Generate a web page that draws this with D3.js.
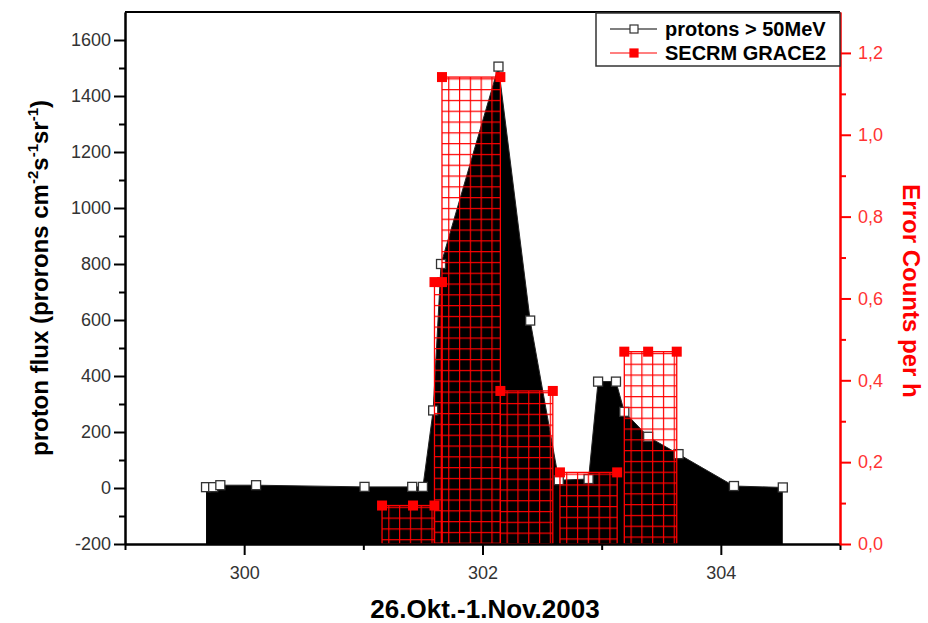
<!DOCTYPE html>
<html>
<head>
<meta charset="utf-8">
<script src="https://cdn.jsdelivr.net/npm/d3@7"></script>
<style>
  body { margin: 0; background: #fff; }
  text { font-family: "Liberation Sans", Arial, sans-serif; }
</style>
</head>
<body>
<div id="chart"></div>
<script>
var svgWidth = 928;
var svgHeight = 623;

var margin = { top: 12, right: 88, bottom: 79, left: 125 };
var width = svgWidth - margin.left - margin.right;
var height = svgHeight - margin.top - margin.bottom;

// protons > 50MeV (day of year 2003, flux)
var protonDay  = [299.68, 299.74, 299.80, 300.10, 301.01, 301.41, 301.50, 301.586, 301.652,
                  302.134, 302.40, 302.64, 302.89, 302.97, 303.12, 303.19, 303.39, 303.645, 304.11, 304.52];
var protonFlux = [3, 3, 10, 10, 4, 4, 4, 277, 800, 1505, 598, 28, 32, 380, 380, 272, 183, 121, 7, 2];

// SECRM GRACE2 error counts per hour
var secrmDay    = [301.157, 301.417, 301.597, 301.597, 301.66, 301.66, 302.15, 302.15, 302.59,
                   302.65, 303.13, 303.19, 303.39, 303.63];
var secrmCounts = [0.094, 0.094, 0.094, 0.64, 0.64, 1.141, 1.141, 0.374, 0.374,
                   0.175, 0.175, 0.47, 0.47, 0.47];

var xMajor = [300, 302, 304];
var xMinor = [299, 301, 303, 305];
var leftMajor = [-200, 0, 200, 400, 600, 800, 1000, 1200, 1400, 1600];
var leftMinor = [-100, 100, 300, 500, 700, 900, 1100, 1300, 1500];
var rightMajor = [0, 0.2, 0.4, 0.6, 0.8, 1.0, 1.2];
var rightMinor = [0.1, 0.3, 0.5, 0.7, 0.9, 1.1];

var svg = d3.select("#chart")
  .append("svg")
  .attr("width", svgWidth)
  .attr("height", svgHeight);

var defs = svg.append("defs");

var chartGroup = svg.append("g")
  .attr("transform", `translate(${margin.left}, ${margin.top})`);

var xScale = d3.scaleLinear().domain([299, 305]).range([0, width]);
var yLeft = d3.scaleLinear().domain([-200, 1700]).range([height, 0]);
var yRight = d3.scaleLinear().domain([0, 1.3]).range([height, 0]);

var protons = protonDay.map((d, i) => ({ day: d, flux: protonFlux[i] }));

// black filled area down to the axis floor
var area = d3.area()
  .x(d => xScale(d.day))
  .y0(height)
  .y1(d => yLeft(d.flux));

chartGroup.append("path")
  .datum(protons)
  .attr("d", area)
  .attr("fill", "#000");

chartGroup.append("path")
  .datum(protons)
  .attr("d", d3.line().x(d => xScale(d.day)).y(d => yLeft(d.flux)))
  .attr("fill", "none")
  .attr("stroke", "#222")
  .attr("stroke-width", 1);

chartGroup.selectAll(".protonPt")
  .data(protons)
  .enter()
  .append("rect")
  .attr("class", "protonPt")
  .attr("x", d => xScale(d.day) - 4.5)
  .attr("y", d => yLeft(d.flux) - 4.5)
  .attr("width", 9)
  .attr("height", 9)
  .attr("fill", "#fff")
  .attr("stroke", "#333")
  .attr("stroke-width", 1.3);

// group consecutive equal counts into bars
var bars = [];
var i = 0;
while (i < secrmDay.length) {
  var j = i;
  while (j + 1 < secrmDay.length && secrmCounts[j + 1] === secrmCounts[i]) j++;
  if (j > i) bars.push({ x0: secrmDay[i], x1: secrmDay[j], v: secrmCounts[i] });
  i = j + 1;
}

var cell = 10.8;
bars.forEach(function(b, k) {
  var pat = defs.append("pattern")
    .attr("id", "grid" + k)
    .attr("patternUnits", "userSpaceOnUse")
    .attr("x", margin.left + xScale(b.x0))
    .attr("y", margin.top + yRight(b.v))
    .attr("width", cell)
    .attr("height", cell);
  pat.append("path")
    .attr("d", `M0,0.6 H${cell} M0.6,0 V${cell}`)
    .attr("stroke", "#ff0000")
    .attr("stroke-width", 1.2)
    .attr("fill", "none");
});

chartGroup.selectAll(".secrmBar")
  .data(bars)
  .enter()
  .append("rect")
  .attr("class", "secrmBar")
  .attr("x", d => xScale(d.x0))
  .attr("y", d => yRight(d.v))
  .attr("width", d => xScale(d.x1) - xScale(d.x0))
  .attr("height", d => height - yRight(d.v))
  .attr("fill", (d, k) => `url(#grid${k})`)
  .attr("stroke", "#ff0000")
  .attr("stroke-width", 1.3);

chartGroup.selectAll(".secrmPt")
  .data(secrmDay.map((d, k) => ({ day: d, c: secrmCounts[k] })))
  .enter()
  .append("rect")
  .attr("class", "secrmPt")
  .attr("x", d => xScale(d.day) - 5)
  .attr("y", d => yRight(d.c) - 5)
  .attr("width", 10)
  .attr("height", 10)
  .attr("fill", "#ff0000");

// axes
function styleAxis(g, color) {
  g.select(".domain").attr("stroke", color).attr("stroke-width", 2);
  g.selectAll(".tick line").attr("stroke", color).attr("stroke-width", 2);
  g.selectAll(".tick text")
    .attr("font-family", "Liberation Sans, Arial, sans-serif")
    .attr("font-size", 18);
}

var xAxis = chartGroup.append("g")
  .attr("transform", `translate(0, ${height})`)
  .call(d3.axisBottom(xScale).tickValues(xMajor).tickSize(11).tickSizeOuter(0).tickPadding(11).tickFormat(d => String(d)));
styleAxis(xAxis, "#000");
xAxis.selectAll(".tick text").attr("fill", "#333");
var xAxisMinor = chartGroup.append("g")
  .attr("transform", `translate(0, ${height})`)
  .call(d3.axisBottom(xScale).tickValues(xMinor).tickSize(6).tickSizeOuter(0).tickFormat(""));
styleAxis(xAxisMinor, "#000");

var leftAxis = chartGroup.append("g")
  .call(d3.axisLeft(yLeft).tickValues(leftMajor).tickSize(11).tickSizeOuter(0).tickPadding(3).tickFormat(d => String(d)));
styleAxis(leftAxis, "#000");
leftAxis.selectAll(".tick text").attr("fill", "#333");
var leftMinorAxis = chartGroup.append("g")
  .call(d3.axisLeft(yLeft).tickValues(leftMinor).tickSize(6).tickSizeOuter(0).tickFormat(""));
styleAxis(leftMinorAxis, "#000");

// top frame line
chartGroup.append("line")
  .attr("x1", 0).attr("x2", width)
  .attr("y1", 0).attr("y2", 0)
  .attr("stroke", "#000")
  .attr("stroke-width", 2);

var rightAxis = chartGroup.append("g")
  .attr("transform", `translate(${width}, 0)`)
  .call(d3.axisRight(yRight).tickValues(rightMajor).tickSize(11).tickSizeOuter(0).tickPadding(7)
    .tickFormat(d => d3.format(".1f")(d).replace(".", ",")));
styleAxis(rightAxis, "#ff0000");
rightAxis.selectAll(".tick text").attr("fill", "#ff3333");
var rightMinorAxis = chartGroup.append("g")
  .attr("transform", `translate(${width}, 0)`)
  .call(d3.axisRight(yRight).tickValues(rightMinor).tickSize(6).tickSizeOuter(0).tickFormat(""));
styleAxis(rightMinorAxis, "#ff0000");

// axis titles
svg.append("text")
  .attr("x", 485)
  .attr("y", 618)
  .attr("text-anchor", "middle")
  .attr("font-size", 26)
  .attr("font-weight", "bold")
  .attr("fill", "#000")
  .text("26.Okt.-1.Nov.2003");

var yTitle = svg.append("text")
  .attr("transform", "translate(48, 278) rotate(-90)")
  .attr("text-anchor", "middle")
  .attr("font-size", 24)
  .attr("font-weight", "bold")
  .attr("fill", "#000");
yTitle.append("tspan").text("proton flux (prorons cm");
yTitle.append("tspan").attr("dy", -10).attr("font-size", 15).text("-2");
yTitle.append("tspan").attr("dy", 10).text("s");
yTitle.append("tspan").attr("dy", -10).attr("font-size", 15).text("-1");
yTitle.append("tspan").attr("dy", 10).text("sr");
yTitle.append("tspan").attr("dy", -10).attr("font-size", 15).text("-1");
yTitle.append("tspan").attr("dy", 10).text(")");

svg.append("text")
  .attr("transform", "translate(903, 291) rotate(90)")
  .attr("text-anchor", "middle")
  .attr("font-size", 24)
  .attr("font-weight", "bold")
  .attr("fill", "#ff0000")
  .text("Error Counts per h");

// legend
var legend = svg.append("g");
legend.append("rect")
  .attr("x", 596).attr("y", 13)
  .attr("width", 244).attr("height", 53)
  .attr("fill", "#fff")
  .attr("stroke", "#333")
  .attr("stroke-width", 1.5);

var legendItems = [
  { label: "protons > 50MeV", color: "#000", open: true, y: 29 },
  { label: "SECRM GRACE2", color: "#ff0000", open: false, y: 53 }
];
legendItems.forEach(function(item) {
  legend.append("line")
    .attr("x1", 610).attr("x2", 657)
    .attr("y1", item.y).attr("y2", item.y)
    .attr("stroke", item.color)
    .attr("stroke-width", 1.2);
  legend.append("rect")
    .attr("x", 634 - 4).attr("y", item.y - 4)
    .attr("width", 8).attr("height", 8)
    .attr("fill", item.open ? "#fff" : item.color)
    .attr("stroke", item.open ? "#333" : item.color)
    .attr("stroke-width", 1.2);
  legend.append("text")
    .attr("x", 665)
    .attr("y", item.y + 7)
    .attr("font-size", 20)
    .attr("font-weight", "bold")
    .attr("fill", "#000")
    .text(item.label);
});
</script>
</body>
</html>
